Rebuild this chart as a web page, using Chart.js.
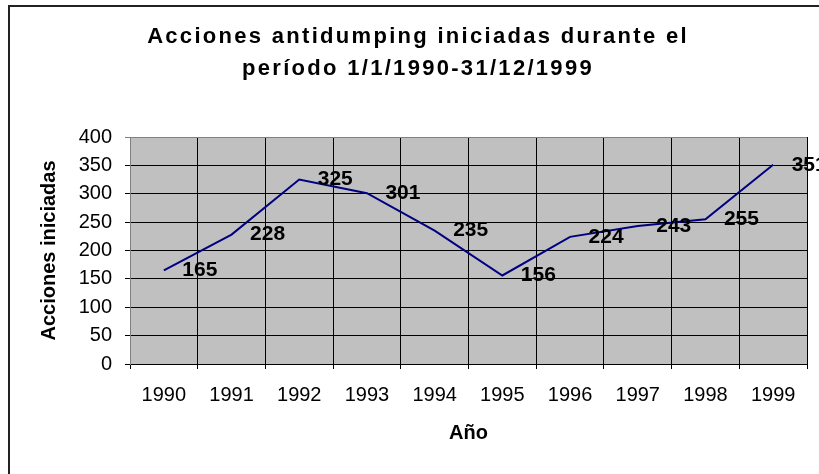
<!DOCTYPE html>
<html lang="es">
<head>
<meta charset="utf-8">
<title>Acciones antidumping iniciadas</title>
<script src="https://cdn.jsdelivr.net/npm/chart.js@4/dist/chart.umd.min.js"></script>
<style>
  html, body { margin: 0; padding: 0; background: #fff; }
  #chart { display: block; }
</style>
</head>
<body>
<canvas id="chart" width="819" height="474"></canvas>
<script>
// ===========================
// DATA
// ===========================
const years   = ['1990', '1991', '1992', '1993', '1994', '1995', '1996', '1997', '1998', '1999'];
const actions = [165, 228, 325, 301, 235, 156, 224, 243, 255, 351];
const yTicks  = [0, 50, 100, 150, 200, 250, 300, 350, 400];

const titleLines = ['Acciones antidumping iniciadas durante el', 'período 1/1/1990-31/12/1999'];

const FONT = '"Liberation Sans", Arial, Helvetica, sans-serif';
Chart.defaults.font.family = FONT;
Chart.defaults.color = '#000';

// ===========================
// PLUGINS
// ===========================
// gray plot background + outer frame of the chart object
const frame = {
  id: 'frame',
  beforeDraw(chart) {
    const { ctx, chartArea: a } = chart;
    ctx.save();
    ctx.fillStyle = '#fff';
    ctx.fillRect(0, 0, chart.width, chart.height);
    ctx.fillStyle = '#c0c0c0';
    ctx.fillRect(a.left, a.top, a.right - a.left, a.bottom - a.top);
    ctx.fillStyle = '#222';
    ctx.fillRect(8, 5, chart.width - 8, 2);
    ctx.fillRect(8, 5, 2, chart.height - 5);
    ctx.restore();
  }
};

// spaced bold title, like the Excel one
const spacedTitle = {
  id: 'spacedTitle',
  afterDraw(chart) {
    const { ctx } = chart;
    ctx.save();
    ctx.font = 'bold 22px ' + FONT;
    ctx.letterSpacing = '2.3px';
    ctx.fillStyle = '#000';
    ctx.textAlign = 'center';
    ctx.textBaseline = 'alphabetic';
    ctx.fillText(titleLines[0], 418, 43);
    ctx.fillText(titleLines[1], 418, 75);
    ctx.restore();
  }
};

// value labels to the right of each point
const valueLabels = {
  id: 'valueLabels',
  afterDatasetsDraw(chart) {
    const { ctx } = chart;
    const meta = chart.getDatasetMeta(0);
    ctx.save();
    ctx.font = 'bold 21px ' + FONT;
    ctx.fillStyle = '#000';
    ctx.textAlign = 'center';
    ctx.textBaseline = 'middle';
    meta.data.forEach((pt, i) => {
      ctx.fillText(String(actions[i]), pt.x + 36, pt.y);
    });
    ctx.restore();
  }
};

// ===========================
// CHART
// ===========================
new Chart(document.getElementById('chart'), {
  type: 'line',
  data: {
    labels: years,
    datasets: [{
      label: 'Acciones iniciadas',
      data: actions,
      borderColor: '#000080',
      borderWidth: 2,
      pointRadius: 0,
      pointHoverRadius: 0,
      tension: 0,
      fill: false
    }]
  },
  options: {
    responsive: false,
    animation: false,
    events: [],
    layout: { padding: { left: 8, right: 12, top: 137, bottom: 0 } },
    plugins: {
      legend: { display: false },
      title: { display: false },
      tooltip: { enabled: false }
    },
    scales: {
      x: {
        offset: true,
        afterFit: s => { s.height = 110; },
        grid: {
          offset: true,
          color: c => c.index === years.length ? '#808080' : '#000',
          lineWidth: 1,
          tickLength: 5
        },
        border: { color: '#000', width: 1 },
        ticks: { font: { size: 20 }, padding: 14, maxRotation: 0, autoSkip: false },
        title: {
          display: true,
          text: 'Año',
          font: { size: 20, weight: 'bold' },
          padding: { top: 0, bottom: 29 }
        }
      },
      y: {
        min: 0,
        max: 400,
        afterFit: s => { s.width = 122; },
        afterBuildTicks: s => { s.ticks = yTicks.map(v => ({ value: v })); },
        grid: {
          color: c => c.tick && c.tick.value === 400 ? '#808080' : '#000',
          lineWidth: 1,
          tickLength: 5
        },
        border: { color: '#808080', width: 1 },
        ticks: { font: { size: 20 }, padding: 13 },
        title: {
          display: true,
          text: 'Acciones iniciadas',
          font: { size: 20, weight: 'bold' },
          padding: { top: 29, bottom: 0 }
        }
      }
    }
  },
  plugins: [frame, valueLabels, spacedTitle]
});
</script>
</body>
</html>
